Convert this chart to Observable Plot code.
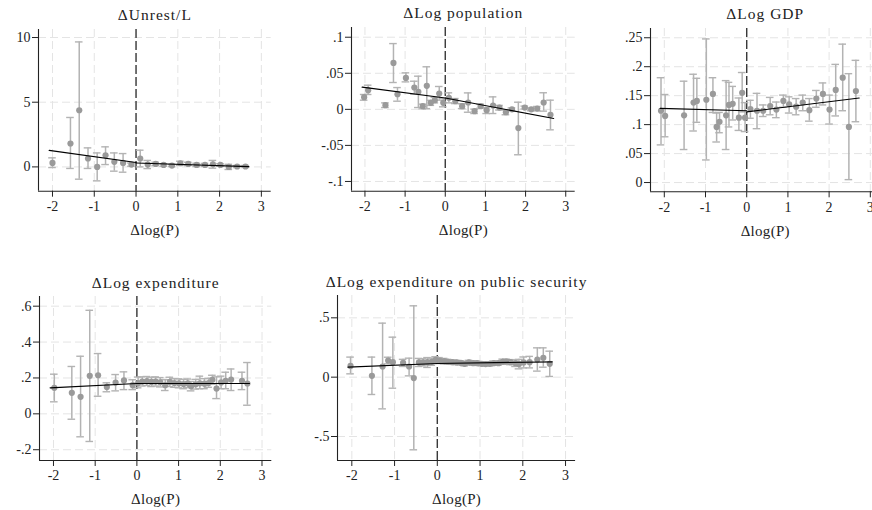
<!DOCTYPE html>
<html><head><meta charset="utf-8">
<script src="https://cdn.jsdelivr.net/npm/d3@7"></script>
<script src="https://cdn.jsdelivr.net/npm/@observablehq/plot@0.6"></script>
<style>
body{margin:0;background:#fff;}
#chart{position:relative;width:872px;height:510px;overflow:hidden;background:#fff;}
#chart svg{position:absolute;overflow:visible;}
#chart svg text{font-family:"Liberation Serif","Times New Roman",serif;font-weight:normal;}
</style></head><body><div id="chart"></div>
<script>
// ---------- shared axis content ----------
const xTicks = [-2, -1, 0, 1, 2, 3];
const xDomain = [-2.335, 3.235];
const xLabel = "Δlog(P)";
const titles = ["ΔUnrest/L", "ΔLog population", "ΔLog GDP", "ΔLog expenditure", "ΔLog expenditure on public security"];

// ---------- Panel 1: ΔUnrest/L ----------
const unrestX  = [-2.00, -1.57, -1.36, -1.15, -0.93, -0.73, -0.52, -0.31, -0.11, 0.10, 0.28, 0.47, 0.66, 0.86, 1.06, 1.25, 1.45, 1.65, 1.84, 2.02, 2.22, 2.42, 2.62];
const unrestY  = [0.31, 1.81, 4.38, 0.65, 0.00, 0.90, 0.39, 0.31, 0.18, 0.65, 0.18, 0.23, 0.15, 0.10, 0.28, 0.23, 0.15, 0.15, 0.20, 0.15, 0.00, 0.03, 0.03];
const unrestLo = [-0.05, -0.12, -0.95, -0.12, -1.08, 0.18, -0.33, -0.41, 0.05, 0.00, -0.13, 0.10, 0.05, 0.02, 0.12, 0.10, 0.02, 0.03, -0.10, 0.05, -0.20, -0.05, -0.05];
const unrestHi = [0.70, 3.82, 9.66, 1.47, 1.08, 1.55, 1.08, 1.03, 0.30, 1.29, 0.50, 0.36, 0.25, 0.18, 0.44, 0.36, 0.28, 0.27, 0.50, 0.25, 0.20, 0.11, 0.11];
const unrestFitLeft  = [[-2.08, 1.28], [0, 0.34]];
const unrestFitRight = [[0, 0.30], [2.70, 0.02]];
const unrestTicks = [0, 5, 10];
const unrestRange = [-1.878, 10.62];

// ---------- Panel 2: ΔLog population ----------
const popX  = [-2.02, -1.92, -1.49, -1.29, -1.19, -0.98, -0.77, -0.67, -0.56, -0.46, -0.36, -0.26, -0.15, -0.05, 0.09, 0.25, 0.42, 0.57, 0.73, 0.88, 1.03, 1.19, 1.35, 1.51, 1.66, 1.82, 1.98, 2.14, 2.29, 2.45, 2.62];
const popY  = [0.0169, 0.0266, 0.0058, 0.0644, 0.021, 0.0436, 0.0303, 0.0243, 0.0044, 0.0326, 0.009, 0.0127, 0.022, 0.009, 0.016, 0.0113, 0.0044, 0.0095, -0.0025, 0.0044, -0.0012, 0.0053, 0.0025, -0.0039, 0.0, -0.026, 0.0025, 0.0, 0.001, 0.0095, -0.0076];
const popLo = [0.0127, 0.0206, 0.0025, 0.0372, 0.0113, 0.0381, 0.021, 0.0025, 0.0007, 0.001, 0.0055, 0.009, 0.0127, 0.0035, 0.009, 0.008, 0.001, -0.004, -0.0058, 0.0016, -0.0058, -0.0058, -0.001, -0.0075, -0.002, -0.063, 0.0005, -0.002, -0.002, -0.0025, -0.0284];
const popHi = [0.0206, 0.0335, 0.009, 0.0912, 0.0302, 0.0506, 0.039, 0.046, 0.0072, 0.059, 0.0125, 0.0165, 0.0317, 0.015, 0.0229, 0.015, 0.0078, 0.0228, 0.0003, 0.0072, 0.0025, 0.0173, 0.0055, -0.0005, 0.002, 0.0099, 0.0045, 0.002, 0.004, 0.023, 0.0127];
const popFitLeft  = [[-2.07, 0.0307], [0, 0.0157]];
const popFitRight = [[0, 0.0157], [2.70, -0.0127]];
const popTicks = [-0.1, -0.05, 0, 0.05, 0.1];
const popRange = [-0.1135, 0.1135];

// ---------- Panel 3: ΔLog GDP ----------
const gdpX  = [-2.08, -1.98, -1.52, -1.29, -1.21, -0.98, -0.82, -0.73, -0.66, -0.50, -0.43, -0.34, -0.19, -0.11, -0.04, 0.09, 0.25, 0.40, 0.57, 0.72, 0.89, 1.03, 1.20, 1.36, 1.52, 1.69, 1.85, 2.01, 2.16, 2.33, 2.48, 2.65];
const gdpY  = [0.124, 0.115, 0.116, 0.138, 0.141, 0.143, 0.153, 0.096, 0.105, 0.116, 0.134, 0.136, 0.112, 0.155, 0.112, 0.127, 0.124, 0.124, 0.132, 0.126, 0.141, 0.135, 0.131, 0.138, 0.125, 0.145, 0.153, 0.126, 0.160, 0.181, 0.096, 0.158];
const gdpLo = [0.065, 0.079, 0.057, 0.089, 0.104, 0.039, 0.121, 0.070, 0.086, 0.057, 0.096, 0.108, 0.090, 0.122, 0.088, 0.111, 0.093, 0.114, 0.117, 0.112, 0.130, 0.120, 0.117, 0.124, 0.106, 0.130, 0.134, 0.101, 0.115, 0.124, 0.005, 0.105];
const gdpHi = [0.181, 0.152, 0.175, 0.187, 0.180, 0.248, 0.181, 0.120, 0.121, 0.176, 0.173, 0.166, 0.146, 0.190, 0.138, 0.142, 0.154, 0.134, 0.147, 0.139, 0.151, 0.148, 0.145, 0.151, 0.145, 0.159, 0.172, 0.151, 0.204, 0.239, 0.188, 0.211];
const gdpFitLeft  = [[-2.10, 0.128], [0, 0.124]];
const gdpFitRight = [[0, 0.122], [2.73, 0.146]];
const gdpTicks = [0, 0.05, 0.1, 0.15, 0.2, 0.25];
const gdpRange = [-0.016, 0.266];

// ---------- Panel 4: ΔLog expenditure ----------
const expX  = [-1.98, -1.56, -1.35, -1.13, -0.93, -0.72, -0.51, -0.31, -0.10, 0.03, 0.13, 0.24, 0.35, 0.45, 0.56, 0.68, 0.79, 0.90, 1.01, 1.12, 1.22, 1.30, 1.41, 1.51, 1.62, 1.72, 1.81, 1.91, 2.02, 2.13, 2.26, 2.52, 2.65];
const expY  = [0.145, 0.117, 0.095, 0.212, 0.215, 0.150, 0.174, 0.186, 0.160, 0.172, 0.180, 0.182, 0.178, 0.180, 0.176, 0.160, 0.178, 0.172, 0.170, 0.166, 0.170, 0.154, 0.165, 0.170, 0.168, 0.172, 0.190, 0.141, 0.175, 0.184, 0.191, 0.184, 0.169];
const expLo = [0.067, -0.030, -0.128, -0.154, 0.098, 0.123, 0.128, 0.135, 0.135, 0.145, 0.155, 0.158, 0.152, 0.155, 0.150, 0.130, 0.152, 0.148, 0.145, 0.140, 0.146, 0.128, 0.138, 0.140, 0.140, 0.148, 0.165, 0.085, 0.140, 0.140, 0.130, 0.135, 0.048];
const expHi = [0.221, 0.264, 0.321, 0.577, 0.336, 0.173, 0.219, 0.234, 0.190, 0.205, 0.206, 0.208, 0.204, 0.206, 0.202, 0.190, 0.204, 0.196, 0.195, 0.192, 0.194, 0.180, 0.192, 0.210, 0.196, 0.198, 0.215, 0.206, 0.210, 0.232, 0.250, 0.232, 0.286];
const expFitLeft  = [[-2.08, 0.145], [0, 0.169]];
const expFitRight = [[0, 0.169], [2.70, 0.169]];
const expTicks = [-0.2, 0, 0.2, 0.4, 0.6];
const expRange = [-0.26, 0.654];

// ---------- Panel 5: ΔLog expenditure on public security ----------
const secX  = [-2.03, -1.53, -1.28, -1.15, -1.04, -0.80, -0.66, -0.55, -0.43, -0.33, -0.23, -0.13, -0.04, 0.05, 0.16, 0.25, 0.35, 0.45, 0.55, 0.64, 0.74, 0.84, 0.93, 1.04, 1.13, 1.23, 1.32, 1.43, 1.53, 1.62, 1.71, 1.83, 1.91, 2.02, 2.16, 2.34, 2.48, 2.63];
const secY  = [0.095, 0.011, 0.090, 0.140, 0.126, 0.120, 0.090, -0.008, 0.124, 0.124, 0.126, 0.130, 0.146, 0.140, 0.135, 0.130, 0.126, 0.124, 0.121, 0.112, 0.124, 0.118, 0.118, 0.112, 0.110, 0.112, 0.118, 0.118, 0.130, 0.132, 0.126, 0.118, 0.110, 0.124, 0.126, 0.149, 0.163, 0.112];
const secLo = [0.028, -0.146, -0.267, 0.112, -0.093, 0.090, 0.011, -0.612, 0.090, 0.095, 0.082, 0.100, 0.118, 0.115, 0.112, 0.110, 0.108, 0.106, 0.104, 0.095, 0.104, 0.100, 0.100, 0.095, 0.095, 0.095, 0.100, 0.100, 0.108, 0.112, 0.105, 0.090, 0.070, 0.078, 0.078, 0.051, 0.084, 0.006];
const secHi = [0.169, 0.169, 0.455, 0.168, 0.337, 0.150, 0.160, 0.601, 0.158, 0.155, 0.165, 0.160, 0.172, 0.165, 0.158, 0.150, 0.145, 0.142, 0.138, 0.130, 0.142, 0.136, 0.136, 0.130, 0.126, 0.130, 0.136, 0.136, 0.152, 0.152, 0.148, 0.146, 0.150, 0.170, 0.175, 0.247, 0.247, 0.219];
const secFitLeft  = [[-2.09, 0.084], [0, 0.115]];
const secFitRight = [[0, 0.115], [2.69, 0.129]];
const secTicks = [-0.5, 0, 0.5];
const secRange = [-0.702, 0.688];

// ---------- layout (page pixels of each plot region) ----------
const layout = [
  {L: 38,    R: 270.7, T: 29.3, B: 191},
  {L: 351.3, R: 575,   T: 27.3, B: 191},
  {L: 649.5, R: 879,   T: 27.7, B: 191},
  {L: 38.5,  R: 270.8, T: 296,  B: 460},
  {L: 337.3, R: 575.4, T: 295,  B: 460}
];

const panels = [
  {x: unrestX, y: unrestY, lo: unrestLo, hi: unrestHi, fitL: unrestFitLeft, fitR: unrestFitRight, ticks: unrestTicks, range: unrestRange},
  {x: popX, y: popY, lo: popLo, hi: popHi, fitL: popFitLeft, fitR: popFitRight, ticks: popTicks, range: popRange},
  {x: gdpX, y: gdpY, lo: gdpLo, hi: gdpHi, fitL: gdpFitLeft, fitR: gdpFitRight, ticks: gdpTicks, range: gdpRange},
  {x: expX, y: expY, lo: expLo, hi: expHi, fitL: expFitLeft, fitR: expFitRight, ticks: expTicks, range: expRange},
  {x: secX, y: secY, lo: secLo, hi: secHi, fitL: secFitLeft, fitR: secFitRight, ticks: secTicks, range: secRange}
];

const FONT = '"Liberation Serif", "Times New Roman", serif';
const fmt = d => d === 0 ? "0" : String(+(+d).toFixed(4)).replace(/^(-?)0\./, "$1.");

const chart = document.getElementById("chart");
const mL = 50, mR = 14, mT = 36, mB = 52;

panels.forEach((p, k) => {
  const box = layout[k];
  const idx = d3.range(p.x.length);
  const w = (box.R - box.L) + mL + mR;
  const h = (box.B - box.T) + mT + mB;
  const errStroke = "#b3b3b3";
  const svg = Plot.plot({
    width: w, height: h,
    marginLeft: mL, marginRight: mR, marginTop: mT, marginBottom: mB,
    x: {domain: xDomain},
    y: {domain: p.range},
    style: {fontFamily: FONT, fontSize: "14px", background: "transparent", color: "#222", overflow: "visible"},
    marks: [
      Plot.gridX(xTicks, {stroke: "#e4e4e4", strokeOpacity: 1, strokeWidth: 1, strokeDasharray: "8,4"}),
      Plot.gridY(p.ticks, {stroke: "#e4e4e4", strokeOpacity: 1, strokeWidth: 1, strokeDasharray: "8,4"}),
      Plot.ruleX([0], {stroke: "#3a3a3a", strokeWidth: 1.4, strokeDasharray: "9,3"}),
      Plot.ruleX(idx, {x: i => p.x[i], y1: i => p.lo[i], y2: i => p.hi[i], stroke: errStroke, strokeWidth: 1.5}),
      Plot.ruleY(idx, {y: i => p.hi[i], x1: i => p.x[i], x2: i => p.x[i], insetLeft: -3.8, insetRight: -3.8, stroke: errStroke, strokeWidth: 1.4}),
      Plot.ruleY(idx, {y: i => p.lo[i], x1: i => p.x[i], x2: i => p.x[i], insetLeft: -3.8, insetRight: -3.8, stroke: errStroke, strokeWidth: 1.4}),
      Plot.dot(idx, {x: i => p.x[i], y: i => p.y[i], r: 3.1, fill: "#9a9a9a", stroke: "none"}),
      Plot.line(p.fitL, {x: d => d[0], y: d => d[1], stroke: "#000", strokeWidth: 1.2}),
      Plot.line(p.fitR, {x: d => d[0], y: d => d[1], stroke: "#000", strokeWidth: 1.2}),
      Plot.ruleX([xDomain[0]], {stroke: "#222", strokeWidth: 1.1}),
      Plot.ruleY([p.range[0]], {stroke: "#222", strokeWidth: 1.1}),
      Plot.axisX({ticks: xTicks, tickSize: 6, tickPadding: 4, label: null, tickFormat: d => String(d), fontSize: 14, fontFamily: FONT, stroke: "#222", fill: "#222"}),
      Plot.axisY({ticks: p.ticks, tickSize: 6, tickPadding: 2, label: null, tickFormat: fmt, fontSize: 14, fontFamily: FONT, stroke: "#222", fill: "#222"}),
      Plot.text([titles[k]], {frameAnchor: "top", lineAnchor: "bottom", dy: -(k < 3 ? 9 : 8), fontSize: 15.5, fontFamily: FONT, fontWeight: "normal", fill: "#222"}),
      Plot.text([xLabel], {frameAnchor: "bottom", lineAnchor: "bottom", dy: 44, fontSize: 15, fontFamily: FONT, fontWeight: "normal", fill: "#222"})
    ]
  });
  svg.style.left = (box.L - mL) + "px";
  svg.style.top = (box.T - mT) + "px";
  // slight tracking on titles to match the wide lettering of the reference
  svg.querySelectorAll("g[aria-label='text'] text").forEach(t => {
    t.style.letterSpacing = t.textContent === xLabel ? "0.3px" : "1px";
  });
  chart.appendChild(svg);
});
</script>
</body></html>
